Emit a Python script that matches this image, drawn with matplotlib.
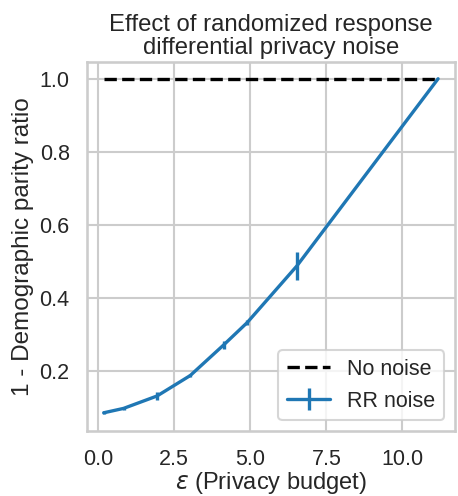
import matplotlib
matplotlib.use("Agg")
import matplotlib.pyplot as plt
import seaborn as sns
import numpy as np

# privacy budget vs fairness metric
epsilon = [0.19, 0.84, 1.94, 3.03, 4.13, 4.90, 6.53, 11.17]
dp_ratio = [0.085, 0.097, 0.131, 0.187, 0.271, 0.332, 0.487, 1.0]
dp_err = [0.004, 0.005, 0.010, 0.005, 0.010, 0.006, 0.039, 0.0]
no_noise = [1.0] * len(epsilon)

sns.set_theme(context="talk", style="whitegrid")
plt.rcParams['font.family'] = ['Liberation Sans', 'DejaVu Sans']
plt.rcParams['mathtext.fontset'] = 'dejavusans'

fig = plt.figure(figsize=(4.58, 4.96), dpi=100)
ax = fig.add_axes([0.19, 0.131, 0.803, 0.744])

ax.plot(epsilon, no_noise, color='black', linestyle='--', linewidth=2.4, label='No noise')
ax.errorbar(epsilon, dp_ratio, yerr=dp_err, color='#1f77b4', linewidth=2.4,
            elinewidth=2.4, label='RR noise')

ax.set_xticks([0.0, 2.5, 5.0, 7.5, 10.0])
ax.set_yticks([0.2, 0.4, 0.6, 0.8, 1.0])
ax.tick_params(labelsize=15.5)
ax.tick_params(axis='x', pad=4)

ax.set_xlabel(r'$\epsilon$ (Privacy budget)', fontsize=17, labelpad=0)
ax.set_ylabel('1 - Demographic parity ratio', fontsize=17.5)
ax.set_title('Effect of randomized response\ndifferential privacy noise', fontsize=17.2, linespacing=1.05)

leg = ax.legend(loc='lower right', fontsize=15.5, handlelength=2.0)

fig.savefig('out.png', dpi=100)
